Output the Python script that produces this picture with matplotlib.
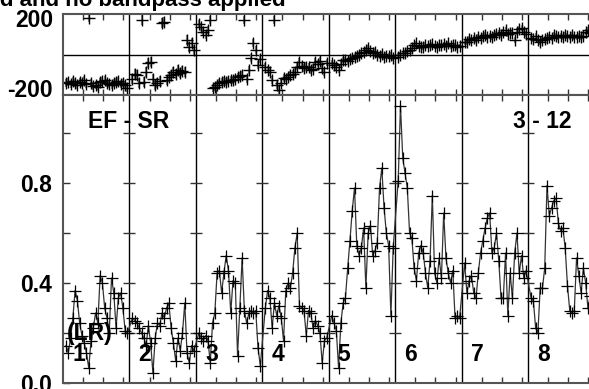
import numpy as np
import matplotlib.pyplot as plt

plt.rcParams['font.family'] = ['Liberation Sans', 'DejaVu Sans']
plt.rcParams['font.weight'] = 'bold'
plt.rcParams['font.size'] = 16.5

# 8 baselines, 28 channels each
seg_len = 33
seg_labels = ['1', '2', '3', '4', '5', '6', '7', '8']

amp = [
    [0.15, 0.12, 0.18, 0.26, 0.37, 0.33, 0.24, 0.19, 0.16, 0.12, 0.06, 0.17, 0.22, 0.28,
     0.24, 0.43, 0.40, 0.30, 0.26, 0.20, 0.42, 0.36, 0.22, 0.34, 0.36, 0.30, 0.21, 0.20],
    [0.26, 0.25, 0.24, 0.22, 0.20, 0.18, 0.15, 0.23, 0.16, 0.04, 0.18, 0.24, 0.23, 0.28,
     0.26, 0.30, 0.32, 0.22, 0.16, 0.09, 0.18, 0.13, 0.20, 0.32, 0.12, 0.08, 0.15, 0.13],
    [0.20, 0.18, 0.17, 0.19, 0.17, 0.08, 0.24, 0.28, 0.44, 0.45, 0.36, 0.44, 0.51, 0.45,
     0.28, 0.41, 0.40, 0.11, 0.30, 0.50, 0.29, 0.24, 0.28, 0.29, 0.28, 0.29, 0.14, 0.07],
    [0.30, 0.37, 0.34, 0.22, 0.32, 0.27, 0.31, 0.26, 0.17, 0.37, 0.40, 0.38, 0.44, 0.54,
     0.60, 0.31, 0.30, 0.29, 0.19, 0.29, 0.28, 0.22, 0.25, 0.23, 0.20, 0.08, 0.17, 0.18],
    [0.27, 0.24, 0.21, 0.06, 0.24, 0.32, 0.34, 0.46, 0.57, 0.69, 0.78, 0.55, 0.51, 0.54,
     0.62, 0.38, 0.60, 0.63, 0.51, 0.53, 0.56, 0.78, 0.86, 0.70, 0.60, 0.55, 0.27, 0.54],
    [0.81, 1.11, 0.90, 0.84, 0.78, 0.60, 0.58, 0.46, 0.41, 0.52, 0.55, 0.52, 0.44, 0.38,
     0.49, 0.75, 0.44, 0.40, 0.50, 0.42, 0.68, 0.50, 0.44, 0.40, 0.45, 0.26, 0.27, 0.26],
    [0.48, 0.36, 0.41, 0.43, 0.36, 0.34, 0.44, 0.52, 0.57, 0.62, 0.66, 0.68, 0.52, 0.54,
     0.60, 0.49, 0.34, 0.34, 0.52, 0.27, 0.44, 0.34, 0.52, 0.60, 0.44, 0.51, 0.42, 0.45],
    [0.34, 0.33, 0.22, 0.20, 0.38, 0.38, 0.46, 0.79, 0.67, 0.70, 0.73, 0.74, 0.64, 0.61,
     0.62, 0.54, 0.39, 0.29, 0.28, 0.29, 0.50, 0.43, 0.36, 0.46, 0.40, 0.30, 0.35, 0.30],
]

phase = [
    [-140, -135, -145, -130, -140, -150, -135, -140, -125, -145, 180, -140, -155, -150,
     -160, -135, -130, -125, -140, -145, -150, -140, -135, -130, -145, -140, -150, -165],
    [-120, -95, -100, -140, 170, -135, -86, -42, -37, -120, -151, -140, -130, 155,
     160, -126, -111, -100, -86, -95, -77, -91, -80, -85, 72, 37, 57, 22],
    [150, 136, 111, 96, 120, 170, -165, -160, -150, -140, -136, -130, -136, -130,
     -125, -126, -120, -111, -105, -101, 170, -120, -77, -17, 57, 22, -52, -20],
    [-60, -75, -86, -126, 170, -151, -175, -140, -116, -120, -110, -101, -95, -86,
     -60, -37, -55, -67, -60, -62, -77, -70, -37, -45, -30, -67, -86, -40],
    [-40, -52, -60, -77, -45, -27, -25, -30, -20, -17, -10, -5, -2, 5,
     12, 20, 32, 15, 7, 10, 0, -5, 2, -12, -5, -8, -3, -17],
    [-10, -2, 5, 7, 15, 22, 30, 45, 57, 40, 37, 35, 48, 42,
     47, 50, 40, 37, 47, 45, 50, 43, 57, 40, 45, 47, 35, 42],
    [60, 62, 75, 70, 80, 72, 86, 82, 90, 96, 85, 92, 88, 95,
     100, 106, 95, 110, 121, 100, 108, 105, 72, 110, 125, 131, 110, 100],
    [80, 75, 90, 72, 62, 70, 75, 82, 88, 80, 96, 90, 85, 92,
     88, 95, 90, 85, 96, 88, 86, 90, 85, 92, 111, 121, 105, 115],
]
phase_err = [20, 25, 20, 18, 15, 12, 14, 14]

n_seg = len(amp)
x = np.concatenate([k * seg_len + np.linspace(1.5, 32, len(amp[k])) for k in range(n_seg)])
y_amp = np.concatenate(amp)
y_ph = np.concatenate(phase)
e_ph = np.concatenate([np.full(len(phase[k]), phase_err[k]) for k in range(n_seg)])

fig = plt.figure(figsize=(5.89, 3.89), dpi=100)
ax1 = fig.add_axes([63/589, 1-95/389, 531.5/589, 81/389])
ax2 = fig.add_axes([63/589, 1-383/389, 531.5/589, 288/389])

xt = np.concatenate([k * seg_len + np.array([10, 20, 30]) for k in range(n_seg)])
divs = np.arange(1, n_seg) * seg_len

for ax in (ax1, ax2):
    ax.set_xlim(0, n_seg * seg_len)
    ax.set_xticks(xt)
    ax.set_xticklabels([])
    ax.tick_params(axis='x', direction='in', top=True, bottom=True, length=4, width=1, color='#333')
    for s in ax.spines.values():
        s.set_color('#555')
        s.set_linewidth(1.5)
    for d in divs:
        ax.axvline(d, color='k', lw=1)

# phase panel
ax1.set_ylim(-200, 200)
ax1.set_yticks([])
ax1.axhline(0, color='k', lw=1)
ax1.errorbar(x, y_ph, yerr=e_ph, fmt='none', ecolor='#8a8a8a', elinewidth=1.5, capsize=0)
ax1.plot(x, y_ph, ls='none', marker='+', ms=9, mew=1, color='k')
ax1.text(-0.019, 168, '200', transform=ax1.get_yaxis_transform(), ha='right', va='center')
ax1.text(-0.019, -180, '-200', transform=ax1.get_yaxis_transform(), ha='right', va='center')

# amplitude panel
ax2.set_ylim(0, 1.152)
ax2.set_yticks([0, 0.4, 0.8])
ax2.set_yticklabels(['0.0', '0.4', '0.8'])
ax2.set_yticks([0.2, 0.6, 1.0], minor=True)
ax2.tick_params(axis='y', which='both', direction='in', length=5, width=1, color='#333', pad=8)
yt = [0.2, 0.4, 0.6, 0.8, 1.0]
ax2.plot(np.repeat(divs, len(yt)), np.tile(yt, len(divs)), ls='none', marker='_',
         ms=8, mew=1, color='#333')
ax2.plot(x, y_amp, color='#333', lw=0.9, marker='+', ms=8, mew=0.9, mec='k')

for k, lab in enumerate(seg_labels):
    ax2.text(k * seg_len + 4.5, 0.088, lab, ha='left', va='baseline')
ax2.text(2, 0.172, '(LR)', ha='left', va='baseline')
ax2.text(12.4, 1.02, 'EF - SR', ha='left', va='baseline')
ax2.text(223.5, 1.02, '3 - 12', ha='left', va='baseline')

fig.text(286/589, 1-6/389, 'Calibrated and no bandpass applied', ha='right', va='baseline',
         fontsize=16)

plt.savefig('out.png', dpi=100)
